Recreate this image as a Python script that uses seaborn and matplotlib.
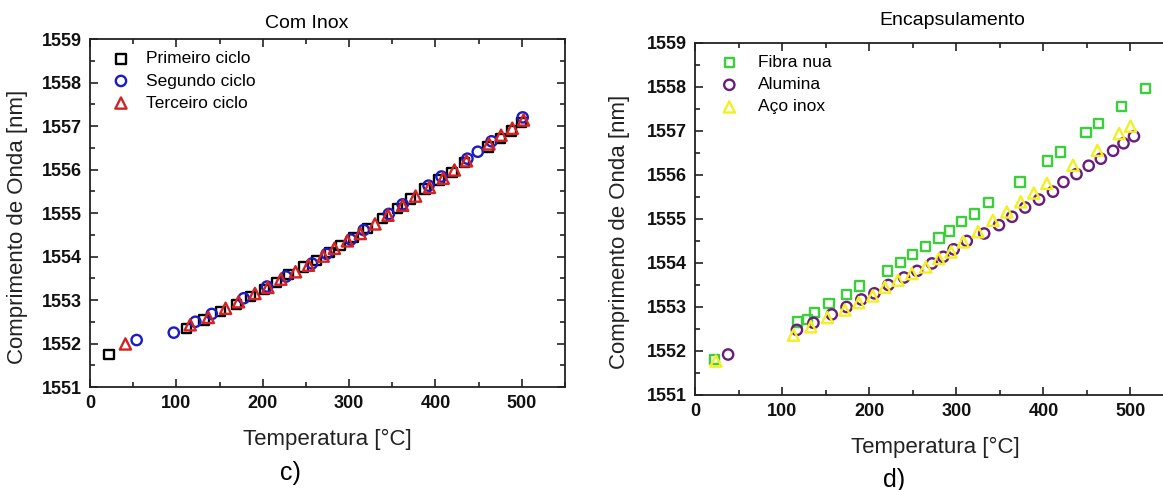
import numpy as np
import pandas as pd
import matplotlib
matplotlib.use('Agg')
import matplotlib.pyplot as plt
import seaborn as sns
from matplotlib.ticker import MultipleLocator

# c) Com Inox - tres ciclos
t_ciclo1 = [22, 112, 132, 151, 170, 186, 202, 216, 230, 247, 262, 277, 290, 305, 321, 339, 356, 371, 388, 404, 419, 434, 461, 475, 488, 500]
w_ciclo1 = [1551.74, 1552.35, 1552.54, 1552.73, 1552.90, 1553.08, 1553.24, 1553.41, 1553.59, 1553.76, 1553.91, 1554.10, 1554.25,
            1554.43, 1554.64, 1554.87, 1555.10, 1555.32, 1555.55, 1555.76, 1555.93, 1556.16, 1556.52, 1556.72, 1556.89, 1557.08]
t_ciclo2 = [54, 97, 122, 141, 178, 205, 227, 257, 274, 302, 317, 346, 362, 392, 407, 437, 449, 465, 501]
w_ciclo2 = [1552.08, 1552.25, 1552.50, 1552.68, 1553.04, 1553.31, 1553.54, 1553.84, 1554.06, 1554.39, 1554.61, 1554.98,
            1555.20, 1555.63, 1555.84, 1556.25, 1556.41, 1556.65, 1557.20]
t_ciclo3 = [41, 116, 137, 157, 172, 191, 206, 221, 238, 253, 270, 283, 298, 313, 330, 345, 362, 377, 393, 409, 422, 436, 462, 476, 489, 502]
w_ciclo3 = [1551.99, 1552.43, 1552.60, 1552.81, 1552.96, 1553.15, 1553.29, 1553.48, 1553.65, 1553.80, 1554.01, 1554.19, 1554.36,
            1554.53, 1554.75, 1554.95, 1555.18, 1555.39, 1555.59, 1555.80, 1555.99, 1556.20, 1556.59, 1556.79, 1556.95, 1557.14]

# d) Encapsulamento
t_fibra = [22, 118, 129, 137, 154, 174, 189, 221, 236, 250, 265, 280, 292, 306, 321, 337, 373, 405, 420, 449, 463, 490, 517]
w_fibra = [1551.81, 1552.66, 1552.72, 1552.88, 1553.08, 1553.29, 1553.48, 1553.82, 1554.01, 1554.20, 1554.37, 1554.57,
           1554.73, 1554.94, 1555.11, 1555.38, 1555.84, 1556.32, 1556.52, 1556.96, 1557.17, 1557.56, 1557.96]
t_alumina = [38, 117, 136, 157, 174, 191, 206, 222, 240, 255, 272, 285, 297, 312, 332, 349, 364, 379, 395, 411, 423, 438,
             452, 466, 480, 492, 504]
w_alumina = [1551.92, 1552.48, 1552.64, 1552.83, 1553.00, 1553.17, 1553.31, 1553.50, 1553.67, 1553.82, 1553.99, 1554.14,
             1554.31, 1554.50, 1554.67, 1554.86, 1555.05, 1555.26, 1555.44, 1555.62, 1555.84, 1556.02, 1556.21, 1556.37,
             1556.55, 1556.72, 1556.88]
t_aco = [24, 113, 133, 152, 172, 188, 204, 218, 233, 249, 265, 280, 294, 308, 325, 342, 358, 374, 389, 404, 434, 462, 487, 500]
w_aco = [1551.77, 1552.36, 1552.55, 1552.76, 1552.93, 1553.10, 1553.25, 1553.45, 1553.61, 1553.76, 1553.91, 1554.10,
         1554.25, 1554.48, 1554.71, 1554.97, 1555.16, 1555.39, 1555.59, 1555.81, 1556.22, 1556.56, 1556.94, 1557.11]

sns.set_style('ticks')
plt.rcParams['font.family'] = ['Liberation Sans', 'DejaVu Sans']
plt.rcParams['text.color'] = 'black'
plt.rcParams['axes.labelcolor'] = '#222222'

fig = plt.figure(figsize=(11.63, 4.9), dpi=100)
ax1 = fig.add_axes([0.0774, 0.2102, 0.4084, 0.710])
ax2 = fig.add_axes([0.5976, 0.1939, 0.4119, 0.7184])

series_c = [
    (t_ciclo1, w_ciclo1, 's', 45, '#000000', 'Primeiro ciclo'),
    (t_ciclo2, w_ciclo2, 'o', 55, '#1a1ac8', 'Segundo ciclo'),
    (t_ciclo3, w_ciclo3, '^', 65, '#d42222', 'Terceiro ciclo'),
]
series_d = [
    (t_fibra, w_fibra, 's', 45, '#3ccf3c', 'Fibra nua'),
    (t_alumina, w_alumina, 'o', 55, '#6a1c7c', 'Alumina'),
    (t_aco, w_aco, '^', 65, '#f2f022', 'Aço inox'),
]

for ax, series in [(ax1, series_c), (ax2, series_d)]:
    for t, w, mk, sz, cor, nome in series:
        df = pd.DataFrame({'T': t, 'W': w})
        sns.scatterplot(data=df, x='T', y='W', ax=ax, marker=mk, s=sz, facecolor='none',
                        edgecolor=cor, linewidth=1.7, label=nome)
    ax.set_xlim(0, 550)
    ax.set_ylim(1551, 1559)
    ax.xaxis.set_major_locator(MultipleLocator(100))
    ax.xaxis.set_minor_locator(MultipleLocator(50))
    ax.yaxis.set_major_locator(MultipleLocator(1))
    ax.yaxis.set_minor_locator(MultipleLocator(0.5))
    ax.tick_params(which='both', direction='in', top=True, right=True, width=1.2,
                   color='#222222', labelcolor='#111111')
    ax.tick_params(which='major', length=6, labelsize=13, pad=6)
    ax.tick_params(which='minor', length=3.5)
    for lab in ax.get_xticklabels() + ax.get_yticklabels():
        lab.set_fontweight('bold')
    for sp in ax.spines.values():
        sp.set_linewidth(1.3)
        sp.set_color('#222222')
    ax.set_xlabel('Temperatura [°C]', fontsize=16)
    ax.set_ylabel('Comprimento de Onda [nm]', fontsize=16)

ax1.legend(loc='upper left', frameon=False, fontsize=12.5, handletextpad=0.45,
           borderaxespad=0.3, labelspacing=0.4, bbox_to_anchor=(0.003, 1.0))
ax2.legend(loc='upper left', frameon=False, fontsize=12.5, handletextpad=0.65,
           borderaxespad=0.3, labelspacing=0.4, bbox_to_anchor=(0.01, 1.0))

ax1.xaxis.set_label_coords(0.499, -0.121)
ax1.yaxis.set_label_coords(-0.13, 0.46)
ax2.xaxis.set_label_coords(0.501, -0.119)
ax2.yaxis.set_label_coords(-0.136, 0.463)

ax1.text(0.457, 1.045, 'Com Inox', transform=ax1.transAxes, ha='center', va='center', fontsize=14)
ax2.text(0.537, 1.065, 'Encapsulamento', transform=ax2.transAxes, ha='center', va='center', fontsize=14)

fig.text(290 / 1163, 1 - 473 / 490, 'c)', ha='center', va='center', fontsize=18)
fig.text(894 / 1163, 1 - 480 / 490, 'd)', ha='center', va='center', fontsize=18)

fig.savefig('out.png', dpi=100)
